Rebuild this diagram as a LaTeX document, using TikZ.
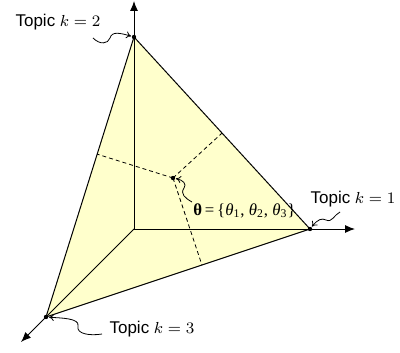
\documentclass[tikz,border=0pt]{standalone}
\usepackage{amsmath}
\usepackage{fontspec}
\setmainfont{Liberation Sans}
\newfontfamily\timesfont{Liberation Serif}
\usetikzlibrary{calc,arrows.meta}

\definecolor{simplexfill}{RGB}{255,255,204}

\newcommand{\tht}[1]{\textit{θ}\textsubscript{#1}}

\tikzset{
    axis/.style={line width=0.5pt,-{Latex[length=5pt,width=4pt]}},
    edge/.style={line width=0.5pt},
    proj/.style={line width=0.4pt,dash pattern=on 2pt off 1.5pt},
    squig/.style={line width=0.4pt,-{To[length=2.5pt,width=3.5pt]},shorten >=1.5pt},
    topic/.style={font=\fontsize{8.5}{10}\selectfont,inner sep=0pt},
}

\begin{document}
\begin{tikzpicture}[x=0.5pt,y=-0.5pt]

        \useasboundingbox (0,0) rectangle (400,352);

        % Corners and the point
        \coordinate (O) at (134,229);
        \coordinate (v1) at (310,229);
        \coordinate (v2) at (134,37);
        \coordinate (v3) at (46,317);
        \coordinate (theta) at (173,178);

        % Simplex
        \fill[simplexfill] (v1) -- (v2) -- (v3) -- cycle;

        % Axes
        \coordinate (e1) at (355,229);
        \coordinate (e2) at (134,1);
        \coordinate (e3) at (21,342);
        \draw[axis] (O) -- (e1);
        \draw[axis] (O) -- (e2);
        \draw[axis] (O) -- (e3);

        % Edges
        \draw[edge] (v1) -- (v2) -- (v3) -- cycle;

        % Distances to the edges
        \draw[proj] (theta) -- ($(v1)!(theta)!(v2)$);
        \draw[proj] (theta) -- ($(v2)!(theta)!(v3)$);
        \draw[proj] (theta) -- ($(v3)!(theta)!(v1)$);

        % Points
        \foreach \p in {v1,v2,v3,theta}
            \fill (\p) circle (1.1pt);

        % Labels
        \node[topic] (lab2) at (58,22) {Topic $k=2$};
        \node[topic] (lab1) at (353,199) {Topic $k=1$};
        \node[topic] (lab3) at (152,329) {Topic $k=3$};
        \node[font=\timesfont\fontsize{8.4}{10}\selectfont,anchor=west,inner sep=0pt] (labt) at (193,211)
            {\textbf{θ}\,=\,\{\tht{1}, \tht{2}, \tht{3}\}};

        % Pointers
        \coordinate (s2) at (93,38);
        \coordinate (s1) at (340,212);
        \coordinate (s3) at (102,334);
        \coordinate (st) at (192,202);
        \draw[squig] (s2) .. controls (100,45) and (108,44) .. (110,38)
            .. controls (112,31) and (120,33) .. (v2);
        \draw[squig] (s1) .. controls (334,215) and (332,223) .. (326,220)
            .. controls (322,218) and (318,219) .. (v1);
        \draw[squig] (s3) .. controls (90,336) and (76,334) .. (78,326)
            .. controls (80,318) and (60,318) .. (v3);
        \draw[squig] (st) .. controls (185,198) and (180,194) .. (184,188)
            .. controls (187,184) and (183,180) .. (theta);

    \end{tikzpicture}
\end{document}
